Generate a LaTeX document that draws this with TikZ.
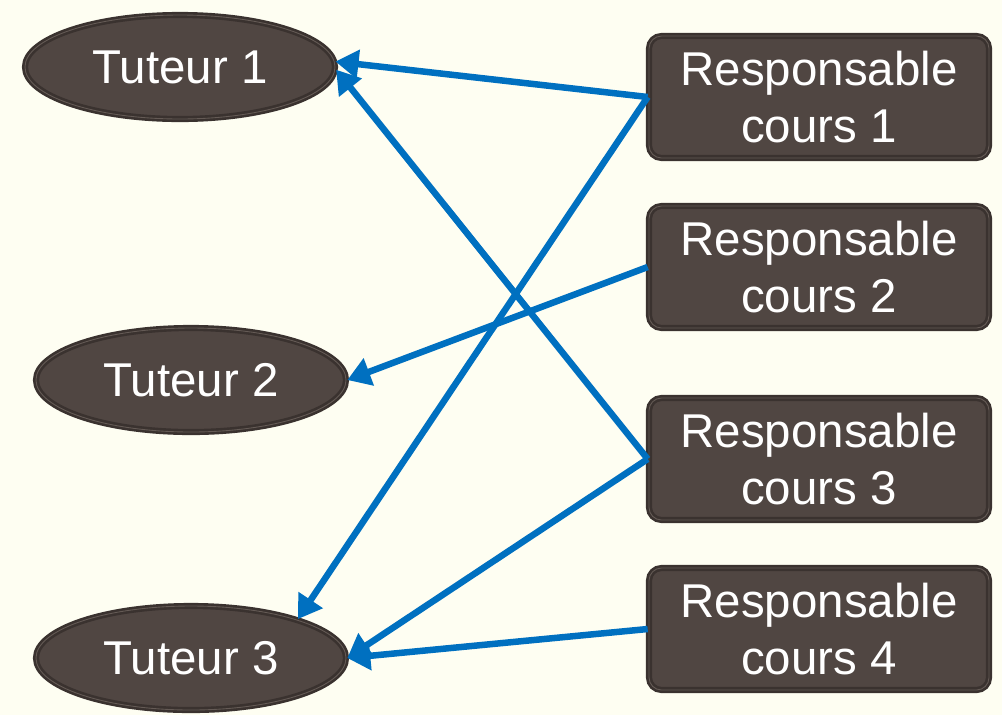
\documentclass[tikz,border=0pt]{standalone}
\usepackage{fontspec}
\setmainfont{Liberation Sans}
\usetikzlibrary{shapes.geometric, arrows.meta}
\definecolor{paper}{RGB}{254,254,242}
\definecolor{boxfill}{RGB}{80,70,66}
\definecolor{boxedge}{RGB}{58,50,47}
\definecolor{boxline}{RGB}{100,90,85}
\definecolor{linkblue}{RGB}{0,112,192}
\tikzstyle{tutor} = [ellipse, minimum width=6.2cm, minimum height=2.08cm, inner sep=0pt, fill=boxfill, draw=boxedge, line width=1.5pt, double=boxline, double distance=0.5pt, text=white, font=\fontsize{27}{32}\selectfont]
\tikzstyle{course} = [rectangle, rounded corners=0.25cm, minimum width=6.8cm, minimum height=2.44cm, inner sep=0pt, fill=boxfill, draw=boxedge, line width=1.5pt, double=boxline, double distance=0.5pt, text=white, align=center, font=\fontsize{27}{32}\selectfont]
\tikzstyle{arrow} = [line width=3.7pt, draw=linkblue, -{Triangle[length=0.46cm, width=0.56cm]}]

\begin{document}
\begin{tikzpicture}[x=0.2mm, y=-0.2mm]

\fill [paper] (0,0) rectangle (1002,715);
\useasboundingbox (0,0) rectangle (1002,715);

\node at (180, 67) (tutor1) [tutor] {Tuteur 1};
\node at (191, 380) (tutor2) [tutor] {Tuteur 2};
\node at (191, 658) (tutor3) [tutor] {Tuteur 3};

\node at (819, 97) (course1) [course] {Responsable\\cours 1};
\node at (819, 267) (course2) [course] {Responsable\\cours 2};
\node at (819, 459) (course3) [course] {Responsable\\cours 3};
\node at (819, 629) (course4) [course] {Responsable\\cours 4};

\draw [arrow] (course1.west) -- (tutor1.2);
\draw [arrow] (course1.west) -- (tutor3.20);
\draw [arrow] (course2.west) -- (tutor2.east);
\draw [arrow] (course3.west) -- (tutor1.-1);
\draw [arrow] (course3.west) -- (tutor3.east);
\draw [arrow] (course4.west) -- (tutor3.east);

\end{tikzpicture}
\end{document}
